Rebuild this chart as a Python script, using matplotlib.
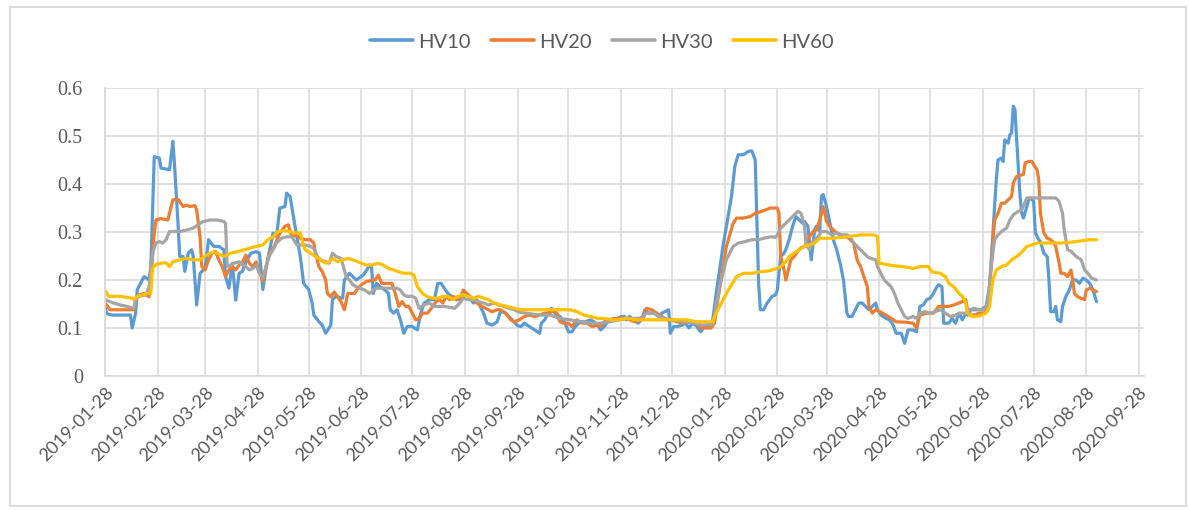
import pandas as pd
import matplotlib
matplotlib.use("Agg")
import matplotlib.pyplot as plt
import matplotlib.dates as mdates
import matplotlib.transforms as mtransforms
from matplotlib.patches import Rectangle
from matplotlib.ticker import FuncFormatter, MultipleLocator

# (date, value) pairs, one list per series
hv10 = [
    ("2019-01-28", 0.145), ("2019-01-29", 0.130), ("2019-02-01", 0.127), ("2019-02-12", 0.127),
    ("2019-02-13", 0.100), ("2019-02-15", 0.130), ("2019-02-16", 0.180), ("2019-02-20", 0.207),
    ("2019-02-23", 0.200), ("2019-02-24", 0.228), ("2019-02-26", 0.457), ("2019-03-01", 0.454),
    ("2019-03-02", 0.433), ("2019-03-07", 0.430), ("2019-03-09", 0.489), ("2019-03-10", 0.437),
    ("2019-03-12", 0.318), ("2019-03-13", 0.249), ("2019-03-15", 0.249), ("2019-03-16", 0.218),
    ("2019-03-18", 0.256), ("2019-03-20", 0.263), ("2019-03-21", 0.249), ("2019-03-23", 0.148),
    ("2019-03-25", 0.214), ("2019-03-28", 0.225), ("2019-03-30", 0.284), ("2019-04-02", 0.270),
    ("2019-04-05", 0.270), ("2019-04-08", 0.263), ("2019-04-09", 0.207), ("2019-04-11", 0.183),
    ("2019-04-13", 0.235), ("2019-04-15", 0.158), ("2019-04-17", 0.214), ("2019-04-19", 0.218),
    ("2019-04-21", 0.238), ("2019-04-24", 0.256), ("2019-04-27", 0.259), ("2019-04-29", 0.256),
    ("2019-05-01", 0.180), ("2019-05-03", 0.228), ("2019-05-05", 0.263), ("2019-05-07", 0.298),
    ("2019-05-09", 0.290), ("2019-05-11", 0.350), ("2019-05-14", 0.353), ("2019-05-15", 0.381),
    ("2019-05-17", 0.374), ("2019-05-20", 0.311), ("2019-05-23", 0.250), ("2019-05-25", 0.193),
    ("2019-05-28", 0.180), ("2019-05-30", 0.152), ("2019-05-31", 0.127), ("2019-06-03", 0.113),
    ("2019-06-05", 0.106), ("2019-06-07", 0.089), ("2019-06-09", 0.100), ("2019-06-10", 0.106),
    ("2019-06-11", 0.159), ("2019-06-13", 0.166), ("2019-06-17", 0.162), ("2019-06-18", 0.200),
    ("2019-06-21", 0.214), ("2019-06-25", 0.200), ("2019-06-29", 0.210), ("2019-07-01", 0.220),
    ("2019-07-03", 0.232), ("2019-07-04", 0.228), ("2019-07-05", 0.172), ("2019-07-07", 0.193),
    ("2019-07-09", 0.186), ("2019-07-12", 0.179), ("2019-07-14", 0.172), ("2019-07-15", 0.138),
    ("2019-07-17", 0.131), ("2019-07-19", 0.138), ("2019-07-21", 0.117), ("2019-07-23", 0.089),
    ("2019-07-25", 0.103), ("2019-07-28", 0.103), ("2019-07-31", 0.096), ("2019-08-02", 0.131),
    ("2019-08-04", 0.152), ("2019-08-07", 0.159), ("2019-08-10", 0.159), ("2019-08-12", 0.193),
    ("2019-08-14", 0.193), ("2019-08-16", 0.182), ("2019-08-18", 0.172), ("2019-08-20", 0.166),
    ("2019-08-23", 0.159), ("2019-08-25", 0.159), ("2019-08-27", 0.166), ("2019-08-29", 0.172),
    ("2019-08-31", 0.162), ("2019-09-02", 0.152), ("2019-09-04", 0.159), ("2019-09-06", 0.145),
    ("2019-09-08", 0.131), ("2019-09-10", 0.110), ("2019-09-13", 0.106), ("2019-09-16", 0.113),
    ("2019-09-18", 0.135), ("2019-09-21", 0.131), ("2019-09-24", 0.120), ("2019-09-26", 0.113),
    ("2019-09-28", 0.105), ("2019-09-30", 0.103), ("2019-10-02", 0.110), ("2019-10-05", 0.103),
    ("2019-10-08", 0.096), ("2019-10-11", 0.089), ("2019-10-12", 0.110), ("2019-10-14", 0.117),
    ("2019-10-16", 0.131), ("2019-10-18", 0.141), ("2019-10-20", 0.131), ("2019-10-23", 0.124),
    ("2019-10-26", 0.110), ("2019-10-28", 0.092), ("2019-10-30", 0.092), ("2019-11-01", 0.103),
    ("2019-11-04", 0.113), ("2019-11-07", 0.113), ("2019-11-10", 0.117), ("2019-11-12", 0.113),
    ("2019-11-14", 0.106), ("2019-11-16", 0.096), ("2019-11-18", 0.103), ("2019-11-20", 0.113),
    ("2019-11-23", 0.117), ("2019-11-26", 0.120), ("2019-11-28", 0.124), ("2019-11-30", 0.124),
    ("2019-12-01", 0.117), ("2019-12-03", 0.124), ("2019-12-05", 0.117), ("2019-12-08", 0.110),
    ("2019-12-10", 0.117), ("2019-12-12", 0.138), ("2019-12-14", 0.131), ("2019-12-18", 0.131),
    ("2019-12-20", 0.124), ("2019-12-22", 0.131), ("2019-12-26", 0.138), ("2019-12-27", 0.089),
    ("2019-12-29", 0.103), ("2019-12-31", 0.103), ("2020-01-03", 0.106), ("2020-01-05", 0.110),
    ("2020-01-07", 0.100), ("2020-01-09", 0.110), ("2020-01-11", 0.106), ("2020-01-13", 0.096),
    ("2020-01-14", 0.092), ("2020-01-16", 0.103), ("2020-01-18", 0.103), ("2020-01-20", 0.103),
    ("2020-01-21", 0.117), ("2020-01-23", 0.172), ("2020-01-27", 0.270), ("2020-02-01", 0.374),
    ("2020-02-03", 0.437), ("2020-02-05", 0.461), ("2020-02-08", 0.461), ("2020-02-11", 0.468),
    ("2020-02-13", 0.469), ("2020-02-15", 0.450), ("2020-02-16", 0.325), ("2020-02-17", 0.193),
    ("2020-02-18", 0.138), ("2020-02-20", 0.138), ("2020-02-22", 0.152), ("2020-02-25", 0.166),
    ("2020-02-27", 0.169), ("2020-02-28", 0.179), ("2020-03-01", 0.249), ("2020-03-03", 0.256),
    ("2020-03-04", 0.263), ("2020-03-06", 0.284), ("2020-03-08", 0.312), ("2020-03-10", 0.332),
    ("2020-03-12", 0.325), ("2020-03-14", 0.318), ("2020-03-15", 0.322), ("2020-03-17", 0.312),
    ("2020-03-18", 0.276), ("2020-03-19", 0.242), ("2020-03-21", 0.305), ("2020-03-22", 0.312),
    ("2020-03-24", 0.302), ("2020-03-25", 0.374), ("2020-03-26", 0.378), ("2020-03-28", 0.353),
    ("2020-03-30", 0.318), ("2020-04-01", 0.284), ("2020-04-03", 0.263), ("2020-04-05", 0.235),
    ("2020-04-07", 0.200), ("2020-04-09", 0.131), ("2020-04-10", 0.124), ("2020-04-12", 0.124),
    ("2020-04-14", 0.138), ("2020-04-16", 0.152), ("2020-04-18", 0.152), ("2020-04-20", 0.145),
    ("2020-04-22", 0.138), ("2020-04-24", 0.145), ("2020-04-26", 0.152), ("2020-04-27", 0.138),
    ("2020-04-29", 0.127), ("2020-05-02", 0.120), ("2020-05-04", 0.117), ("2020-05-06", 0.108),
    ("2020-05-08", 0.089), ("2020-05-11", 0.089), ("2020-05-13", 0.068), ("2020-05-15", 0.096),
    ("2020-05-18", 0.096), ("2020-05-20", 0.092), ("2020-05-22", 0.145), ("2020-05-24", 0.148),
    ("2020-05-26", 0.159), ("2020-05-28", 0.162), ("2020-05-30", 0.172), ("2020-06-01", 0.186),
    ("2020-06-02", 0.190), ("2020-06-04", 0.186), ("2020-06-05", 0.110), ("2020-06-08", 0.110),
    ("2020-06-10", 0.120), ("2020-06-12", 0.110), ("2020-06-14", 0.131), ("2020-06-16", 0.117),
    ("2020-06-18", 0.131), ("2020-06-19", 0.127), ("2020-06-21", 0.138), ("2020-06-27", 0.138),
    ("2020-06-30", 0.145), ("2020-07-02", 0.186), ("2020-07-04", 0.298), ("2020-07-06", 0.409),
    ("2020-07-07", 0.450), ("2020-07-09", 0.454), ("2020-07-10", 0.447), ("2020-07-11", 0.492),
    ("2020-07-13", 0.485), ("2020-07-14", 0.503), ("2020-07-15", 0.506), ("2020-07-16", 0.562),
    ("2020-07-17", 0.555), ("2020-07-18", 0.492), ("2020-07-20", 0.374), ("2020-07-21", 0.339),
    ("2020-07-22", 0.329), ("2020-07-24", 0.353), ("2020-07-25", 0.367), ("2020-07-26", 0.371),
    ("2020-07-28", 0.364), ("2020-07-29", 0.298), ("2020-07-31", 0.284), ("2020-08-01", 0.280),
    ("2020-08-03", 0.256), ("2020-08-05", 0.249), ("2020-08-06", 0.200), ("2020-08-07", 0.134),
    ("2020-08-09", 0.134), ("2020-08-10", 0.145), ("2020-08-11", 0.117), ("2020-08-13", 0.113),
    ("2020-08-14", 0.145), ("2020-08-16", 0.166), ("2020-08-18", 0.179), ("2020-08-20", 0.200),
    ("2020-08-22", 0.200), ("2020-08-24", 0.193), ("2020-08-26", 0.204), ("2020-08-28", 0.200),
    ("2020-08-30", 0.193), ("2020-09-01", 0.179), ("2020-09-03", 0.155),
]

hv20 = [
    ("2019-01-28", 0.152), ("2019-01-31", 0.138), ("2019-02-14", 0.138), ("2019-02-15", 0.159),
    ("2019-02-17", 0.169), ("2019-02-20", 0.172), ("2019-02-23", 0.165), ("2019-02-24", 0.200),
    ("2019-02-26", 0.298), ("2019-02-27", 0.325), ("2019-03-02", 0.328), ("2019-03-06", 0.325),
    ("2019-03-07", 0.339), ("2019-03-09", 0.367), ("2019-03-12", 0.368), ("2019-03-13", 0.363),
    ("2019-03-15", 0.353), ("2019-03-17", 0.356), ("2019-03-19", 0.353), ("2019-03-22", 0.355),
    ("2019-03-23", 0.346), ("2019-03-25", 0.290), ("2019-03-26", 0.228), ("2019-03-28", 0.221),
    ("2019-03-30", 0.242), ("2019-04-01", 0.256), ("2019-04-03", 0.260), ("2019-04-05", 0.242),
    ("2019-04-07", 0.228), ("2019-04-09", 0.207), ("2019-04-11", 0.221), ("2019-04-13", 0.228),
    ("2019-04-15", 0.221), ("2019-04-17", 0.231), ("2019-04-19", 0.238), ("2019-04-21", 0.252),
    ("2019-04-23", 0.235), ("2019-04-25", 0.228), ("2019-04-27", 0.238), ("2019-04-29", 0.217),
    ("2019-05-01", 0.197), ("2019-05-03", 0.228), ("2019-05-05", 0.256), ("2019-05-07", 0.266),
    ("2019-05-09", 0.280), ("2019-05-11", 0.298), ("2019-05-14", 0.312), ("2019-05-16", 0.315),
    ("2019-05-18", 0.290), ("2019-05-21", 0.294), ("2019-05-23", 0.287), ("2019-05-26", 0.284),
    ("2019-05-29", 0.284), ("2019-05-31", 0.277), ("2019-06-01", 0.256), ("2019-06-03", 0.228),
    ("2019-06-05", 0.217), ("2019-06-07", 0.200), ("2019-06-08", 0.172), ("2019-06-10", 0.165),
    ("2019-06-12", 0.175), ("2019-06-14", 0.165), ("2019-06-16", 0.155), ("2019-06-18", 0.138),
    ("2019-06-20", 0.172), ("2019-06-24", 0.172), ("2019-06-26", 0.183), ("2019-06-28", 0.190),
    ("2019-07-01", 0.197), ("2019-07-06", 0.200), ("2019-07-08", 0.210), ("2019-07-10", 0.193),
    ("2019-07-16", 0.193), ("2019-07-18", 0.172), ("2019-07-20", 0.145), ("2019-07-22", 0.155),
    ("2019-07-24", 0.145), ("2019-07-26", 0.145), ("2019-07-28", 0.131), ("2019-07-30", 0.117),
    ("2019-08-01", 0.120), ("2019-08-03", 0.131), ("2019-08-06", 0.131), ("2019-08-09", 0.145),
    ("2019-08-11", 0.155), ("2019-08-13", 0.159), ("2019-08-15", 0.152), ("2019-08-17", 0.166),
    ("2019-08-19", 0.159), ("2019-08-21", 0.166), ("2019-08-25", 0.159), ("2019-08-27", 0.179),
    ("2019-08-29", 0.172), ("2019-08-31", 0.166), ("2019-09-02", 0.159), ("2019-09-04", 0.152),
    ("2019-09-07", 0.145), ("2019-09-13", 0.134), ("2019-09-16", 0.138), ("2019-09-18", 0.138),
    ("2019-09-21", 0.131), ("2019-09-24", 0.117), ("2019-09-26", 0.113), ("2019-09-29", 0.117),
    ("2019-10-02", 0.124), ("2019-10-05", 0.127), ("2019-10-08", 0.124), ("2019-10-11", 0.127),
    ("2019-10-14", 0.131), ("2019-10-17", 0.131), ("2019-10-19", 0.138), ("2019-10-21", 0.131),
    ("2019-10-23", 0.113), ("2019-10-25", 0.110), ("2019-10-28", 0.110), ("2019-10-30", 0.103),
    ("2019-11-02", 0.117), ("2019-11-05", 0.110), ("2019-11-08", 0.110), ("2019-11-11", 0.103),
    ("2019-11-14", 0.106), ("2019-11-16", 0.103), ("2019-11-18", 0.113), ("2019-11-21", 0.117),
    ("2019-11-24", 0.120), ("2019-11-30", 0.120), ("2019-12-03", 0.117), ("2019-12-06", 0.113),
    ("2019-12-09", 0.117), ("2019-12-11", 0.120), ("2019-12-13", 0.141), ("2019-12-16", 0.138),
    ("2019-12-19", 0.131), ("2019-12-22", 0.124), ("2019-12-25", 0.117), ("2019-12-28", 0.117),
    ("2019-12-31", 0.113), ("2020-01-03", 0.110), ("2020-01-06", 0.113), ("2020-01-11", 0.113),
    ("2020-01-14", 0.100), ("2020-01-20", 0.100), ("2020-01-22", 0.110), ("2020-01-24", 0.159),
    ("2020-01-29", 0.270), ("2020-02-02", 0.318), ("2020-02-04", 0.329), ("2020-02-08", 0.329),
    ("2020-02-12", 0.332), ("2020-02-15", 0.339), ("2020-02-18", 0.342), ("2020-02-21", 0.346),
    ("2020-02-24", 0.350), ("2020-02-28", 0.350), ("2020-02-29", 0.339), ("2020-03-01", 0.249),
    ("2020-03-03", 0.221), ("2020-03-04", 0.200), ("2020-03-05", 0.214), ("2020-03-07", 0.242),
    ("2020-03-09", 0.249), ("2020-03-11", 0.260), ("2020-03-13", 0.267), ("2020-03-15", 0.270),
    ("2020-03-17", 0.284), ("2020-03-18", 0.290), ("2020-03-20", 0.301), ("2020-03-22", 0.304),
    ("2020-03-24", 0.325), ("2020-03-26", 0.353), ("2020-03-27", 0.339), ("2020-03-28", 0.322),
    ("2020-03-30", 0.311), ("2020-04-01", 0.304), ("2020-04-03", 0.298), ("2020-04-05", 0.294),
    ("2020-04-09", 0.290), ("2020-04-11", 0.284), ("2020-04-13", 0.277), ("2020-04-14", 0.260),
    ("2020-04-15", 0.242), ("2020-04-17", 0.228), ("2020-04-19", 0.207), ("2020-04-21", 0.186),
    ("2020-04-22", 0.145), ("2020-04-24", 0.131), ("2020-04-26", 0.138), ("2020-04-28", 0.135),
    ("2020-05-02", 0.127), ("2020-05-05", 0.120), ("2020-05-08", 0.113), ("2020-05-14", 0.112),
    ("2020-05-18", 0.110), ("2020-05-20", 0.100), ("2020-05-22", 0.127), ("2020-05-26", 0.131),
    ("2020-05-30", 0.131), ("2020-06-02", 0.145), ("2020-06-08", 0.145), ("2020-06-11", 0.148),
    ("2020-06-14", 0.152), ("2020-06-16", 0.155), ("2020-06-18", 0.159), ("2020-06-19", 0.138),
    ("2020-06-20", 0.127), ("2020-06-23", 0.127), ("2020-06-26", 0.131), ("2020-06-29", 0.131),
    ("2020-07-01", 0.138), ("2020-07-03", 0.228), ("2020-07-05", 0.325), ("2020-07-07", 0.339),
    ("2020-07-09", 0.360), ("2020-07-11", 0.360), ("2020-07-13", 0.367), ("2020-07-15", 0.374),
    ("2020-07-16", 0.402), ("2020-07-18", 0.416), ("2020-07-22", 0.420), ("2020-07-23", 0.444),
    ("2020-07-25", 0.447), ("2020-07-27", 0.447), ("2020-07-28", 0.440), ("2020-07-30", 0.430),
    ("2020-07-31", 0.409), ("2020-08-01", 0.339), ("2020-08-03", 0.298), ("2020-08-05", 0.287),
    ("2020-08-07", 0.284), ("2020-08-09", 0.277), ("2020-08-10", 0.270), ("2020-08-12", 0.235),
    ("2020-08-13", 0.214), ("2020-08-15", 0.214), ("2020-08-17", 0.207), ("2020-08-19", 0.221),
    ("2020-08-20", 0.200), ("2020-08-21", 0.172), ("2020-08-23", 0.165), ("2020-08-25", 0.162),
    ("2020-08-27", 0.159), ("2020-08-28", 0.179), ("2020-08-30", 0.183), ("2020-09-01", 0.179),
    ("2020-09-03", 0.176),
]

hv30 = [
    ("2019-01-28", 0.159), ("2019-02-02", 0.152), ("2019-02-06", 0.148), ("2019-02-10", 0.145),
    ("2019-02-14", 0.141), ("2019-02-15", 0.159), ("2019-02-17", 0.166), ("2019-02-21", 0.169),
    ("2019-02-23", 0.186), ("2019-02-25", 0.256), ("2019-02-27", 0.277), ("2019-03-01", 0.280),
    ("2019-03-03", 0.277), ("2019-03-05", 0.284), ("2019-03-07", 0.301), ("2019-03-13", 0.301),
    ("2019-03-17", 0.304), ("2019-03-21", 0.308), ("2019-03-25", 0.318), ("2019-03-27", 0.322),
    ("2019-03-31", 0.325), ("2019-04-04", 0.325), ("2019-04-08", 0.322), ("2019-04-09", 0.318),
    ("2019-04-10", 0.228), ("2019-04-12", 0.231), ("2019-04-14", 0.235), ("2019-04-17", 0.238),
    ("2019-04-19", 0.231), ("2019-04-21", 0.228), ("2019-04-23", 0.221), ("2019-04-25", 0.224),
    ("2019-04-27", 0.231), ("2019-04-29", 0.214), ("2019-05-01", 0.204), ("2019-05-03", 0.231),
    ("2019-05-05", 0.252), ("2019-05-07", 0.263), ("2019-05-09", 0.277), ("2019-05-12", 0.287),
    ("2019-05-15", 0.290), ("2019-05-18", 0.290), ("2019-05-21", 0.273), ("2019-05-26", 0.273),
    ("2019-05-29", 0.270), ("2019-05-31", 0.266), ("2019-06-02", 0.249), ("2019-06-04", 0.242),
    ("2019-06-07", 0.238), ("2019-06-09", 0.235), ("2019-06-11", 0.256), ("2019-06-13", 0.249),
    ("2019-06-16", 0.245), ("2019-06-18", 0.221), ("2019-06-19", 0.207), ("2019-06-21", 0.200),
    ("2019-06-23", 0.190), ("2019-06-25", 0.186), ("2019-06-27", 0.183), ("2019-06-30", 0.179),
    ("2019-07-03", 0.172), ("2019-07-05", 0.179), ("2019-07-07", 0.183), ("2019-07-19", 0.183),
    ("2019-07-21", 0.179), ("2019-07-23", 0.169), ("2019-07-25", 0.166), ("2019-07-28", 0.166),
    ("2019-07-30", 0.162), ("2019-08-01", 0.141), ("2019-08-04", 0.148), ("2019-08-07", 0.152),
    ("2019-08-10", 0.145), ("2019-08-16", 0.145), ("2019-08-22", 0.141), ("2019-08-25", 0.152),
    ("2019-08-27", 0.162), ("2019-08-30", 0.159), ("2019-09-02", 0.159), ("2019-09-05", 0.155),
    ("2019-09-08", 0.152), ("2019-09-11", 0.148), ("2019-09-14", 0.152), ("2019-09-17", 0.148),
    ("2019-09-20", 0.145), ("2019-09-23", 0.141), ("2019-09-26", 0.138), ("2019-09-29", 0.133),
    ("2019-10-05", 0.130), ("2019-10-11", 0.127), ("2019-10-17", 0.127), ("2019-10-23", 0.120),
    ("2019-10-29", 0.117), ("2019-11-04", 0.113), ("2019-11-10", 0.110), ("2019-11-16", 0.110),
    ("2019-11-21", 0.113), ("2019-11-27", 0.117), ("2019-12-03", 0.120), ("2019-12-09", 0.120),
    ("2019-12-13", 0.131), ("2019-12-17", 0.131), ("2019-12-23", 0.120), ("2019-12-29", 0.117),
    ("2020-01-04", 0.113), ("2020-01-10", 0.110), ("2020-01-15", 0.106), ("2020-01-21", 0.108),
    ("2020-01-25", 0.186), ("2020-01-29", 0.242), ("2020-02-02", 0.270), ("2020-02-05", 0.277),
    ("2020-02-09", 0.280), ("2020-02-13", 0.284), ("2020-02-17", 0.284), ("2020-02-20", 0.287),
    ("2020-02-24", 0.290), ("2020-02-27", 0.289), ("2020-02-28", 0.294), ("2020-03-01", 0.308),
    ("2020-03-04", 0.318), ("2020-03-06", 0.325), ("2020-03-09", 0.336), ("2020-03-11", 0.343),
    ("2020-03-13", 0.339), ("2020-03-15", 0.312), ("2020-03-16", 0.273), ("2020-03-18", 0.263),
    ("2020-03-19", 0.277), ("2020-03-21", 0.284), ("2020-03-23", 0.290), ("2020-03-25", 0.301),
    ("2020-03-28", 0.301), ("2020-03-31", 0.294), ("2020-04-03", 0.298), ("2020-04-06", 0.294),
    ("2020-04-09", 0.294), ("2020-04-11", 0.290), ("2020-04-13", 0.277), ("2020-04-15", 0.270),
    ("2020-04-17", 0.263), ("2020-04-19", 0.256), ("2020-04-21", 0.249), ("2020-04-23", 0.245),
    ("2020-04-26", 0.242), ("2020-04-27", 0.228), ("2020-04-29", 0.214), ("2020-05-01", 0.200),
    ("2020-05-03", 0.193), ("2020-05-05", 0.186), ("2020-05-07", 0.172), ("2020-05-09", 0.152),
    ("2020-05-11", 0.138), ("2020-05-13", 0.124), ("2020-05-15", 0.120), ("2020-05-18", 0.124),
    ("2020-05-20", 0.120), ("2020-05-22", 0.131), ("2020-05-25", 0.134), ("2020-05-28", 0.131),
    ("2020-05-31", 0.134), ("2020-06-03", 0.138), ("2020-06-06", 0.131), ("2020-06-09", 0.124),
    ("2020-06-12", 0.127), ("2020-06-15", 0.131), ("2020-06-18", 0.131), ("2020-06-20", 0.138),
    ("2020-06-23", 0.141), ("2020-06-26", 0.138), ("2020-06-29", 0.138), ("2020-07-01", 0.152),
    ("2020-07-03", 0.228), ("2020-07-05", 0.284), ("2020-07-07", 0.294), ("2020-07-09", 0.301),
    ("2020-07-12", 0.308), ("2020-07-14", 0.325), ("2020-07-16", 0.336), ("2020-07-19", 0.343),
    ("2020-07-21", 0.346), ("2020-07-24", 0.371), ("2020-08-10", 0.371), ("2020-08-12", 0.364),
    ("2020-08-14", 0.339), ("2020-08-15", 0.304), ("2020-08-17", 0.263), ("2020-08-19", 0.260),
    ("2020-08-22", 0.249), ("2020-08-25", 0.242), ("2020-08-27", 0.221), ("2020-08-29", 0.214),
    ("2020-08-31", 0.204), ("2020-09-03", 0.200),
]

hv60 = [
    ("2019-01-28", 0.179), ("2019-01-30", 0.166), ("2019-02-06", 0.166), ("2019-02-13", 0.162),
    ("2019-02-14", 0.159), ("2019-02-16", 0.166), ("2019-02-19", 0.169), ("2019-02-22", 0.172),
    ("2019-02-24", 0.172), ("2019-02-25", 0.225), ("2019-02-27", 0.232), ("2019-03-02", 0.235),
    ("2019-03-05", 0.236), ("2019-03-07", 0.228), ("2019-03-09", 0.238), ("2019-03-13", 0.242),
    ("2019-03-17", 0.245), ("2019-03-21", 0.242), ("2019-03-25", 0.242), ("2019-03-29", 0.252),
    ("2019-04-02", 0.259), ("2019-04-04", 0.256), ("2019-04-08", 0.249), ("2019-04-12", 0.256),
    ("2019-04-16", 0.259), ("2019-04-20", 0.263), ("2019-04-23", 0.266), ("2019-04-27", 0.270),
    ("2019-05-01", 0.273), ("2019-05-04", 0.284), ("2019-05-07", 0.290), ("2019-05-10", 0.301),
    ("2019-05-13", 0.303), ("2019-05-17", 0.301), ("2019-05-20", 0.298), ("2019-05-23", 0.298),
    ("2019-05-25", 0.270), ("2019-05-26", 0.263), ("2019-05-29", 0.256), ("2019-06-01", 0.249),
    ("2019-06-04", 0.242), ("2019-06-07", 0.235), ("2019-06-09", 0.238), ("2019-06-11", 0.245),
    ("2019-06-14", 0.238), ("2019-06-17", 0.242), ("2019-06-20", 0.245), ("2019-06-23", 0.242),
    ("2019-06-26", 0.238), ("2019-06-28", 0.235), ("2019-07-01", 0.231), ("2019-07-04", 0.231),
    ("2019-07-08", 0.235), ("2019-07-11", 0.231), ("2019-07-14", 0.224), ("2019-07-17", 0.221),
    ("2019-07-20", 0.217), ("2019-07-23", 0.214), ("2019-07-27", 0.214), ("2019-07-29", 0.210),
    ("2019-07-31", 0.186), ("2019-08-03", 0.172), ("2019-08-06", 0.165), ("2019-08-09", 0.162),
    ("2019-08-12", 0.162), ("2019-08-15", 0.166), ("2019-08-18", 0.166), ("2019-08-21", 0.159),
    ("2019-08-24", 0.166), ("2019-08-27", 0.169), ("2019-08-30", 0.166), ("2019-09-02", 0.162),
    ("2019-09-05", 0.166), ("2019-09-08", 0.162), ("2019-09-11", 0.159), ("2019-09-14", 0.152),
    ("2019-09-18", 0.148), ("2019-09-22", 0.145), ("2019-09-26", 0.141), ("2019-09-30", 0.138),
    ("2019-10-05", 0.138), ("2019-10-17", 0.138), ("2019-10-29", 0.138), ("2019-11-02", 0.134),
    ("2019-11-06", 0.127), ("2019-11-10", 0.124), ("2019-11-14", 0.120), ("2019-11-18", 0.120),
    ("2019-11-22", 0.117), ("2019-11-26", 0.117), ("2019-12-01", 0.120), ("2019-12-07", 0.117),
    ("2019-12-19", 0.117), ("2019-12-31", 0.117), ("2020-01-06", 0.117), ("2020-01-11", 0.113),
    ("2020-01-21", 0.113), ("2020-01-23", 0.131), ("2020-01-29", 0.172), ("2020-02-04", 0.207),
    ("2020-02-08", 0.214), ("2020-02-13", 0.214), ("2020-02-18", 0.217), ("2020-02-23", 0.219),
    ("2020-02-28", 0.224), ("2020-03-01", 0.228), ("2020-03-04", 0.238), ("2020-03-06", 0.249),
    ("2020-03-09", 0.256), ("2020-03-12", 0.263), ("2020-03-15", 0.270), ("2020-03-18", 0.273),
    ("2020-03-21", 0.277), ("2020-03-24", 0.287), ("2020-04-01", 0.287), ("2020-04-09", 0.290),
    ("2020-04-17", 0.294), ("2020-04-25", 0.294), ("2020-04-27", 0.290), ("2020-04-28", 0.235),
    ("2020-05-06", 0.230), ("2020-05-14", 0.227), ("2020-05-18", 0.224), ("2020-05-22", 0.228),
    ("2020-05-27", 0.228), ("2020-05-29", 0.217), ("2020-06-03", 0.214), ("2020-06-06", 0.207),
    ("2020-06-08", 0.193), ("2020-06-11", 0.186), ("2020-06-14", 0.172), ("2020-06-16", 0.166),
    ("2020-06-18", 0.152), ("2020-06-19", 0.131), ("2020-06-22", 0.124), ("2020-06-26", 0.125),
    ("2020-06-30", 0.131), ("2020-07-02", 0.145), ("2020-07-04", 0.200), ("2020-07-06", 0.221),
    ("2020-07-09", 0.228), ("2020-07-12", 0.231), ("2020-07-15", 0.242), ("2020-07-18", 0.249),
    ("2020-07-21", 0.258), ("2020-07-24", 0.270), ("2020-07-27", 0.273), ("2020-07-30", 0.277),
    ("2020-08-06", 0.277), ("2020-08-14", 0.277), ("2020-08-22", 0.280), ("2020-08-30", 0.284),
    ("2020-09-03", 0.284),
]

series_names = ["HV10", "HV20", "HV30", "HV60"]
series_data = [hv10, hv20, hv30, hv60]
colors = ["#5B9BD5", "#ED7D31", "#A5A5A5", "#FFC000"]

W, H = 1189, 511
fig = plt.figure(figsize=(W / 100, H / 100), dpi=100)
ax = fig.add_axes([105 / W, 1 - 376 / H, (1144 - 105) / W, (376 - 88) / H])

for name, data, c in zip(series_names, series_data, colors):
    d = pd.DataFrame(data, columns=["date", "value"])
    d["date"] = pd.to_datetime(d["date"])
    ax.plot(d["date"], d["value"], color=c, lw=2.3, label=name,
            solid_joinstyle="round", solid_capstyle="round")

grid_c = "#D9D9D9"
text_c = "#595959"

ax.set_ylim(0, 0.6)
ax.set_xlim(pd.Timestamp("2019-01-28"), pd.Timestamp("2020-10-01"))
ax.yaxis.set_major_locator(MultipleLocator(0.1))
ax.yaxis.set_major_formatter(FuncFormatter(lambda v, p: "0" if abs(v) < 1e-9 else f"{v:.1f}"))
ax.xaxis.set_major_locator(mdates.MonthLocator(bymonthday=28))
ax.xaxis.set_major_formatter(mdates.DateFormatter("%Y-%m-%d"))

ax.grid(True, color=grid_c, lw=1.1)
ax.set_axisbelow(True)
for s in ["top", "right"]:
    ax.spines[s].set_visible(False)
for s in ["left", "bottom"]:
    ax.spines[s].set_color(grid_c)
    ax.spines[s].set_linewidth(1.3)
ax.tick_params(axis="both", length=0)
ax.tick_params(axis="y", pad=16, labelsize=14.5, labelcolor=text_c)
ax.tick_params(axis="x", pad=10, labelsize=13, labelcolor=text_c)
for lab in ax.get_yticklabels():
    lab.set_fontfamily("Liberation Serif")

offset = mtransforms.ScaledTranslation(4 / 72, 0, fig.dpi_scale_trans)
for lab in ax.get_xticklabels():
    lab.set_fontfamily("Lato")
    lab.set_rotation(45)
    lab.set_ha("right")
    lab.set_va("center")
    lab.set_rotation_mode("anchor")
    lab.set_transform(lab.get_transform() + offset)

leg = fig.legend(loc="center", bbox_to_anchor=(0.506, 1 - 42 / H), ncol=4, frameon=False,
                 handlelength=2.15, handletextpad=0.25, columnspacing=1.0,
                 prop={"family": "Lato", "size": 14.5})
for t in leg.get_texts():
    t.set_color(text_c)
for h in leg.get_lines():
    h.set_linewidth(2.6)

fig.add_artist(Rectangle((10 / W, 5 / H), 1176 / W, 499 / H, transform=fig.transFigure,
                         fill=False, edgecolor=grid_c, lw=1.3))

fig.savefig("out.png", dpi=100)
